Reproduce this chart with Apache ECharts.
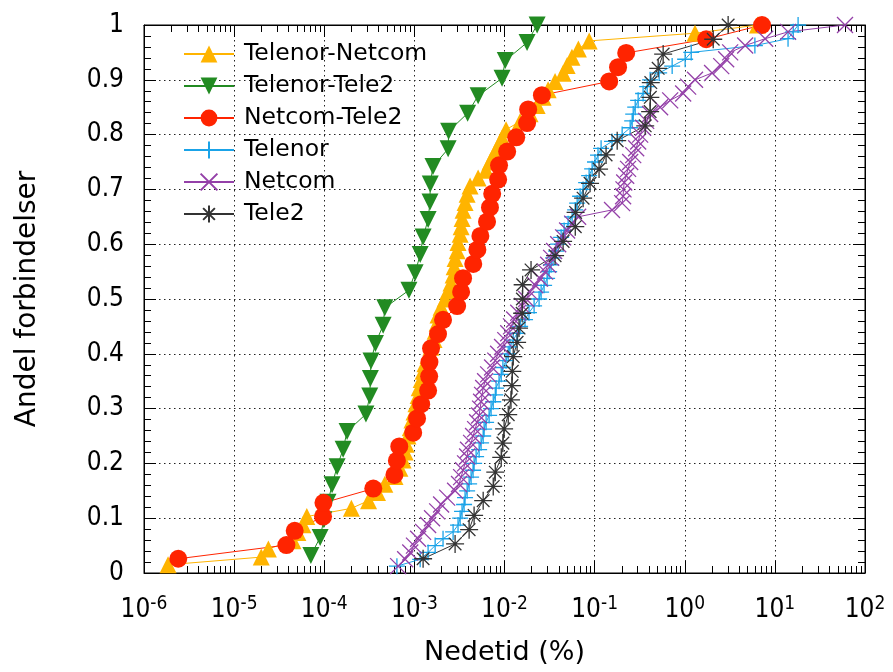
<!DOCTYPE html>
<html><head><meta charset="utf-8">
<script src="https://cdn.jsdelivr.net/npm/echarts@6/dist/echarts.min.js"></script>
<style>html,body{margin:0;padding:0;background:#fff}#c{width:893px;height:672px}</style>
</head><body><div id="c"></div>
<script>
const telenorNetcomX = [1.85e-6,2.0e-5,2.4e-5,4.5e-5,5.1e-5,5.8e-5,6.4e-5,2.0e-4,3.1e-4,3.9e-4,4.7e-4,6.1e-4,6.9e-4,7.5e-4,7.9e-4,8.1e-4,8.5e-4,9.0e-4,9.4e-4,9.9e-4,1.04e-3,1.1e-3,1.13e-3,1.19e-3,1.25e-3,1.31e-3,1.42e-3,1.53e-3,1.65e-3,1.7e-3,1.79e-3,1.83e-3,1.98e-3,2.19e-3,2.37e-3,2.55e-3,2.69e-3,2.76e-3,2.83e-3,2.98e-3,3.05e-3,3.22e-3,3.3e-3,3.38e-3,3.47e-3,3.65e-3,3.85e-3,4.15e-3,5.1e-3,6.25e-3,6.9e-3,7.7e-3,8.5e-3,9.4e-3,1.04e-2,1.49e-2,1.92e-2,2.3e-2,2.68e-2,3.05e-2,3.64e-2,4.47e-2,4.95e-2,5.6e-2,6.6e-2,8.7e-2,1.3,6.4];
const telenorNetcomY = [0.015,0.029,0.044,0.059,0.074,0.088,0.103,0.118,0.132,0.147,0.162,0.176,0.191,0.206,0.221,0.235,0.250,0.265,0.279,0.294,0.309,0.324,0.338,0.353,0.368,0.382,0.397,0.412,0.426,0.441,0.456,0.471,0.485,0.500,0.515,0.529,0.544,0.559,0.574,0.588,0.603,0.618,0.632,0.647,0.662,0.676,0.691,0.706,0.721,0.735,0.750,0.765,0.779,0.794,0.809,0.824,0.838,0.853,0.868,0.882,0.897,0.912,0.926,0.941,0.956,0.971,0.985,1.000];

const telenorTele2X = [7.1e-5,9.0e-5,9.9e-5,1.1e-4,1.22e-4,1.39e-4,1.62e-4,1.79e-4,2.9e-4,3.2e-4,3.25e-4,3.3e-4,3.7e-4,4.5e-4,4.7e-4,8.7e-4,1.02e-3,1.16e-3,1.25e-3,1.42e-3,1.49e-3,1.5e-3,1.61e-3,2.37e-3,2.4e-3,3.9e-3,5.1e-3,9.4e-3,1.02e-2,1.78e-2,2.3e-2];
const telenorTele2Y = [0.032,0.065,0.097,0.129,0.161,0.194,0.226,0.258,0.290,0.323,0.355,0.387,0.419,0.452,0.484,0.516,0.548,0.581,0.613,0.645,0.677,0.710,0.742,0.774,0.806,0.839,0.871,0.903,0.935,0.968,1.000];

const netcomTele2X = [2.4e-6,3.8e-5,4.7e-5,9.7e-5,9.8e-5,3.5e-4,6.0e-4,6.4e-4,6.8e-4,9.7e-4,1.07e-3,1.19e-3,1.42e-3,1.46e-3,1.47e-3,1.53e-3,1.83e-3,2.08e-3,2.98e-3,3.3e-3,3.47e-3,4.5e-3,5.0e-3,5.4e-3,6.4e-3,6.9e-3,7.3e-3,8.5e-3,8.7e-3,1.07e-2,1.35e-2,1.78e-2,1.83e-2,2.6e-2,0.145,0.182,0.224,1.73,7.2];
const netcomTele2Y = [0.026,0.051,0.077,0.103,0.128,0.154,0.179,0.205,0.231,0.256,0.282,0.308,0.333,0.359,0.385,0.410,0.436,0.462,0.487,0.513,0.538,0.564,0.590,0.615,0.641,0.667,0.692,0.718,0.744,0.769,0.795,0.821,0.846,0.872,0.897,0.923,0.949,0.974,1.000];

const telenorX = [6.4e-4,1.16e-3,1.42e-3,1.7e-3,2.08e-3,2.69e-3,3.05e-3,3.22e-3,3.38e-3,3.56e-3,3.65e-3,3.85e-3,4.05e-3,4.26e-3,4.48e-3,4.6e-3,4.84e-3,5.23e-3,5.5e-3,5.8e-3,5.94e-3,6.25e-3,6.75e-3,7.1e-3,7.5e-3,7.9e-3,8.07e-3,8.7e-3,9.2e-3,9.6e-3,1.04e-2,1.1e-2,1.15e-2,1.25e-2,1.38e-2,1.49e-2,1.69e-2,1.87e-2,2.13e-2,2.42e-2,2.55e-2,2.75e-2,2.97e-2,3.13e-2,3.29e-2,3.46e-2,3.74e-2,3.94e-2,4.25e-2,4.59e-2,5.08e-2,5.63e-2,6.08e-2,6.4e-2,6.9e-2,7.45e-2,8.05e-2,8.69e-2,9.38e-2,0.101,0.109,0.118,0.156,0.202,0.248,0.261,0.268,0.282,0.304,0.345,0.383,0.413,0.52,0.725,1.01,1.18,6.0,14,16,18.1];
const telenorY = [0.0125,0.025,0.0375,0.05,0.0625,0.075,0.0875,0.1,0.1125,0.125,0.1375,0.15,0.1625,0.175,0.1875,0.2,0.2125,0.225,0.2375,0.25,0.2625,0.275,0.2875,0.3,0.3125,0.325,0.3375,0.35,0.3625,0.375,0.3875,0.4,0.4125,0.425,0.4375,0.45,0.4625,0.475,0.4875,0.5,0.5125,0.525,0.5375,0.55,0.5625,0.575,0.5875,0.6,0.6125,0.625,0.6375,0.65,0.6625,0.675,0.6875,0.7,0.7125,0.725,0.7375,0.75,0.7625,0.775,0.7875,0.8,0.8125,0.825,0.8375,0.85,0.8625,0.875,0.8875,0.9,0.9125,0.925,0.9375,0.95,0.9625,0.975,0.9875,1.0];

const netcomX = [6.6e-4,7.9e-4,9.0e-4,9.9e-4,1.1e-3,1.25e-3,1.42e-3,1.57e-3,1.79e-3,1.98e-3,2.31e-3,2.83e-3,3.13e-3,3.3e-3,3.47e-3,3.65e-3,3.85e-3,3.94e-3,4.26e-3,4.48e-3,4.72e-3,4.97e-3,5.23e-3,5.36e-3,5.5e-3,5.64e-3,5.8e-3,6.09e-3,6.58e-3,7.28e-3,7.9e-3,8.5e-3,9.4e-3,1.02e-2,1.1e-2,1.18e-2,1.28e-2,1.42e-2,1.57e-2,1.74e-2,1.92e-2,2.19e-2,2.48e-2,2.82e-2,3.05e-2,3.29e-2,3.55e-2,3.94e-2,4.47e-2,4.95e-2,5.63e-2,6.56e-2,0.156,0.202,0.207,0.209,0.213,0.224,0.235,0.248,0.268,0.289,0.304,0.32,0.345,0.373,0.413,0.533,0.689,0.96,1.09,1.3,2.01,2.54,2.88,3.19,4.68,7.8,14,60];
const netcomY = [0.0125,0.025,0.0375,0.05,0.0625,0.075,0.0875,0.1,0.1125,0.125,0.1375,0.15,0.1625,0.175,0.1875,0.2,0.2125,0.225,0.2375,0.25,0.2625,0.275,0.2875,0.3,0.3125,0.325,0.3375,0.35,0.3625,0.375,0.3875,0.4,0.4125,0.425,0.4375,0.45,0.4625,0.475,0.4875,0.5,0.5125,0.525,0.5375,0.55,0.5625,0.575,0.5875,0.6,0.6125,0.625,0.6375,0.65,0.6625,0.675,0.6875,0.7,0.7125,0.725,0.7375,0.75,0.7625,0.775,0.7875,0.8,0.8125,0.825,0.8375,0.85,0.8625,0.875,0.8875,0.9,0.9125,0.925,0.9375,0.95,0.9625,0.975,0.9875,1.0];

const tele2X = [1.25e-3,2.83e-3,4.05e-3,4.6e-3,5.8e-3,7.5e-3,7.9e-3,9.2e-3,9.6e-3,9.9e-3,1.1e-2,1.18e-2,1.21e-2,1.22e-2,1.25e-2,1.38e-2,1.45e-2,1.57e-2,1.58e-2,1.59e-2,1.97e-2,3.64e-2,4.47e-2,6.1e-2,6.15e-2,7.45e-2,8.9e-2,0.112,0.134,0.178,0.364,0.413,0.415,0.42,0.507,0.576,2.07,3.03];
const tele2Y = [0.026,0.053,0.079,0.105,0.132,0.158,0.184,0.211,0.237,0.263,0.289,0.316,0.342,0.368,0.395,0.421,0.447,0.474,0.500,0.526,0.553,0.579,0.605,0.632,0.658,0.684,0.711,0.737,0.763,0.789,0.816,0.842,0.868,0.895,0.921,0.947,0.974,1.000];

const seriesNames = ['Telenor-Netcom','Telenor-Tele2','Netcom-Tele2','Telenor','Netcom','Tele2'];

const pair = (xs, ys) => xs.map((x, i) => [x, ys[i]]);
const minorVals = [];
for (let e = -6; e < 2; e++) for (let m = 2; m <= 9; m++) minorVals.push(m * Math.pow(10, e));

const FONT = 'DejaVu Sans';
const TICKFONT = "'Liberation Sans Narrow', 'DejaVu Sans Condensed', 'DejaVu Sans'";
const PLUS = 'path://M5,0L5,10M0,5L10,5';
const CROSS = 'path://M0,0L10,10M10,0L0,10';
const STAR = 'path://M5,0L5,10M0,5L10,5M1.5,1.5L8.5,8.5M8.5,1.5L1.5,8.5';

function lineSeries(name, data, color, symbol, size, opts) {
  const open = symbol.startsWith('path://');
  return Object.assign({
    name, type: 'line', data, symbol, symbolSize: size,
    xAxisIndex: 0, yAxisIndex: 0,
    lineStyle: { color, width: 1 },
    itemStyle: open ? { color: 'rgba(0,0,0,0)', borderColor: color, borderWidth: 1.3 } : { color, borderWidth: 0 },
    emphasis: { disabled: true },
    animation: false
  }, opts || {});
}

const chart = echarts.init(document.getElementById('c'), null, { renderer: 'canvas' });
const xBase = { type: 'log', logBase: 10, min: 1e-6, max: 100, gridIndex: 0 };
const DOTS = { color: '#222', type: [1.5, 3.5], width: 1 };
chart.setOption({
  animation: false,
  textStyle: { fontFamily: FONT, color: '#000' },
  grid: { left: 144, right: 28, top: 25, bottom: 99, outerBoundsMode: 'none', containLabel: false,
          show: true, borderColor: '#000', borderWidth: 1, backgroundColor: 'transparent' },
  legend: {
    orient: 'vertical', left: 178, top: 37, itemWidth: 50, itemHeight: 21, itemGap: 8,
    textStyle: { fontSize: 23.5, fontFamily: FONT, color: '#000', lineHeight: 24, padding: [0, 0, 0, 5] },
    data: seriesNames, selectedMode: false
  },
  xAxis: [
    Object.assign({}, xBase, {
      position: 'bottom',
      name: 'Nedetid (%)', nameLocation: 'middle', nameGap: 66,
      nameTextStyle: { fontSize: 27, fontFamily: FONT, color: '#000' },
      axisLine: { show: true, lineStyle: { color: '#000', width: 1 } },
      axisTick: { show: true, inside: true, length: 12, lineStyle: { color: '#000' } },
      splitLine: { show: true, lineStyle: DOTS },
      axisLabel: {
        margin: 22, color: '#000',
        formatter: v => '{b|10}{s|' + Math.round(Math.log10(v)) + '}',
        rich: {
          b: { fontSize: 26, fontFamily: TICKFONT, color: '#000', lineHeight: 30 },
          s: { fontSize: 19, fontFamily: TICKFONT, color: '#000', verticalAlign: 'top', lineHeight: 18 }
        }
      }
    }),
    Object.assign({}, xBase, {
      position: 'bottom',
      axisLine: { show: false }, axisLabel: { show: false }, splitLine: { show: false },
      axisTick: { show: true, inside: true, length: 7, customValues: minorVals, lineStyle: { color: '#000' } }
    }),
    Object.assign({}, xBase, {
      position: 'top',
      axisLine: { show: true, lineStyle: { color: '#000' } }, axisLabel: { show: false }, splitLine: { show: false },
      axisTick: { show: true, inside: true, length: 12, lineStyle: { color: '#000' } }
    }),
    Object.assign({}, xBase, {
      position: 'top',
      axisLine: { show: false }, axisLabel: { show: false }, splitLine: { show: false },
      axisTick: { show: true, inside: true, length: 7, customValues: minorVals, lineStyle: { color: '#000' } }
    })
  ],
  yAxis: [
    {
      type: 'value', min: 0, max: 1, interval: 0.1, position: 'left',
      name: 'Andel forbindelser', nameLocation: 'middle', nameGap: 102, nameRotate: 90,
      nameTextStyle: { fontSize: 28, fontFamily: FONT, color: '#000' },
      axisLine: { show: true, lineStyle: { color: '#000' } },
      axisTick: { show: true, inside: true, length: 12, lineStyle: { color: '#000' } },
      minorTick: { show: true, splitNumber: 5, length: 7, lineStyle: { color: '#000' } },
      splitLine: { show: true, lineStyle: DOTS },
      axisLabel: { margin: 20, fontSize: 26, fontFamily: TICKFONT, color: '#000' }
    },
    {
      type: 'value', min: 0, max: 1, interval: 0.1, position: 'right',
      axisLine: { show: true, lineStyle: { color: '#000' } },
      axisTick: { show: true, inside: true, length: 12, lineStyle: { color: '#000' } },
      minorTick: { show: true, splitNumber: 5, length: 7, lineStyle: { color: '#000' } },
      splitLine: { show: false }, axisLabel: { show: false }
    }
  ],
  series: [
    lineSeries(seriesNames[0], pair(telenorNetcomX, telenorNetcomY), '#ffb400', 'triangle', 17),
    lineSeries(seriesNames[1], pair(telenorTele2X, telenorTele2Y), '#228b22', 'triangle', 17, { symbolRotate: 180 }),
    lineSeries(seriesNames[2], pair(netcomTele2X, netcomTele2Y), '#ff2400', 'circle', 18),
    lineSeries(seriesNames[3], pair(telenorX, telenorY), '#1aa3e8', PLUS, 16),
    lineSeries(seriesNames[4], pair(netcomX, netcomY), '#9440a8', CROSS, 16),
    lineSeries(seriesNames[5], pair(tele2X, tele2Y), '#333333', STAR, 18)
  ]
});
</script>
</body></html>
